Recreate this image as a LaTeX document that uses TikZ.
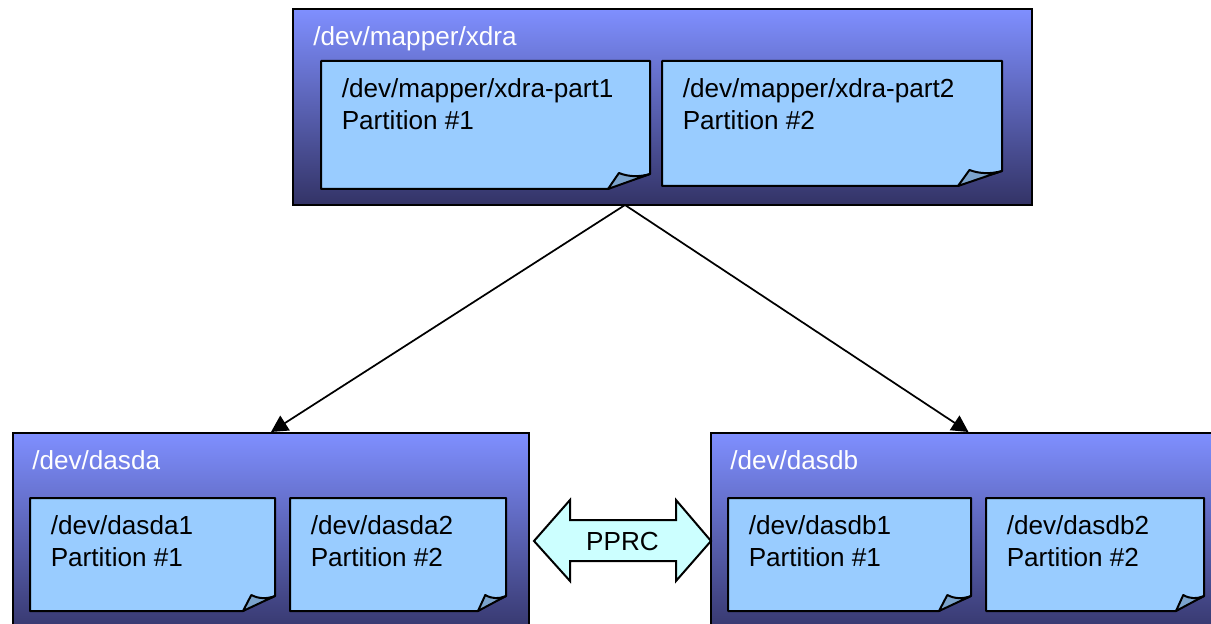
\documentclass[tikz,border=0pt]{standalone}
\usepackage{fontspec}
\setmainfont{Liberation Sans}
\usetikzlibrary{arrows.meta}
\definecolor{gradtop}{HTML}{7F8FFF}
\definecolor{gradbot}{HTML}{333366}
\definecolor{notefill}{HTML}{99CCFF}
\definecolor{foldfill}{HTML}{7BA3CC}
\definecolor{pprcfill}{HTML}{CCFFFF}
\tikzset{
  lbl/.style={font=\fontsize{19.6pt}{24pt}\selectfont,text=black,inner sep=0pt,anchor=north west,align=left},
  toplbl/.style={font=\fontsize{19.6pt}{24pt}\selectfont,text=white,inner sep=0pt,anchor=north west},
  panel/.style={draw=black,line width=1.5pt,rectangle,inner sep=0pt,top color=gradtop,bottom color=gradbot},
  sheet/.style={draw=black,line width=1.5pt,fill=notefill,line join=round},
  fold/.style={draw=black,line width=1.5pt,fill=foldfill,line join=round},
  conn/.style={draw=black,line width=1.3pt,-{Triangle[length=12.5pt,width=13pt]}},
}
% name, x1, y1, x2, y2, fold width, text
\newcommand{\notebox}[7]{%
  \coordinate (#1) at (#2,#3);
  \draw[sheet] (#2,#3) -- (#4,#3) -- (#4,#5-15) .. controls (#4-0.3*#6,#5-10) and (#4-0.6*#6,#5-10) .. (#4-#6,#5) -- (#2,#5) -- cycle;
  \draw[fold] (#4,#5-15) .. controls (#4-0.25*#6,#5-12) and (#4-0.5*#6,#5-12) .. (#4-0.74*#6,#5-16) -- (#4-#6,#5) -- cycle;
  \node[lbl] (#1text) at (#2+20.5,#3+17) {#7};
}
\begin{document}
\begin{tikzpicture}[x=0.75pt,y=-0.75pt]
\useasboundingbox (0,0) rectangle (1211,624);
\clip (0,0) rectangle (1211,624);
\node[panel,minimum width=554pt,minimum height=147pt] (xdra) at (662.5,107) {};
\node[panel,minimum width=387.5pt,minimum height=156pt] (dasda) at (271,537) {};
\node[panel,minimum width=387pt,minimum height=156pt] (dasdb) at (968.5,537) {};
\coordinate (fork) at (625,205);
\draw[conn] (fork) -- (dasda.north);
\draw[conn] (fork) -- (dasdb.north);
\node[toplbl] (xdralabel) at (313,26) {/dev/mapper/xdra};
\node[toplbl] (dasdalabel) at (32,450) {/dev/dasda};
\node[toplbl] (dasdblabel) at (730,450) {/dev/dasdb};
\notebox{xa}{321}{61}{650}{189}{42}{/dev/mapper/xdra-part1\\Partition \#1}
\notebox{xb}{662}{61}{1002}{186}{44}{/dev/mapper/xdra-part2\\Partition \#2}
\notebox{da}{30}{498}{275}{611}{32}{/dev/dasda1\\Partition \#1}
\notebox{db}{290}{498}{506}{611}{28}{/dev/dasda2\\Partition \#2}
\notebox{ea}{728}{498}{971}{611}{32}{/dev/dasdb1\\Partition \#1}
\notebox{eb}{986}{498}{1204}{611}{28}{/dev/dasdb2\\Partition \#2}
\draw[draw=black,line width=1.5pt,fill=pprcfill,line join=miter]
  (534,541) -- (570,500) -- (570,520) -- (676,520) -- (676,500) -- (711,541) -- (676,581) -- (676,561) -- (570,561) -- (570,581) -- cycle;
\node[font=\fontsize{19.6pt}{24pt}\selectfont,inner sep=0pt] (pprc) at (622.5,542) {PPRC};
\end{tikzpicture}
\end{document}
